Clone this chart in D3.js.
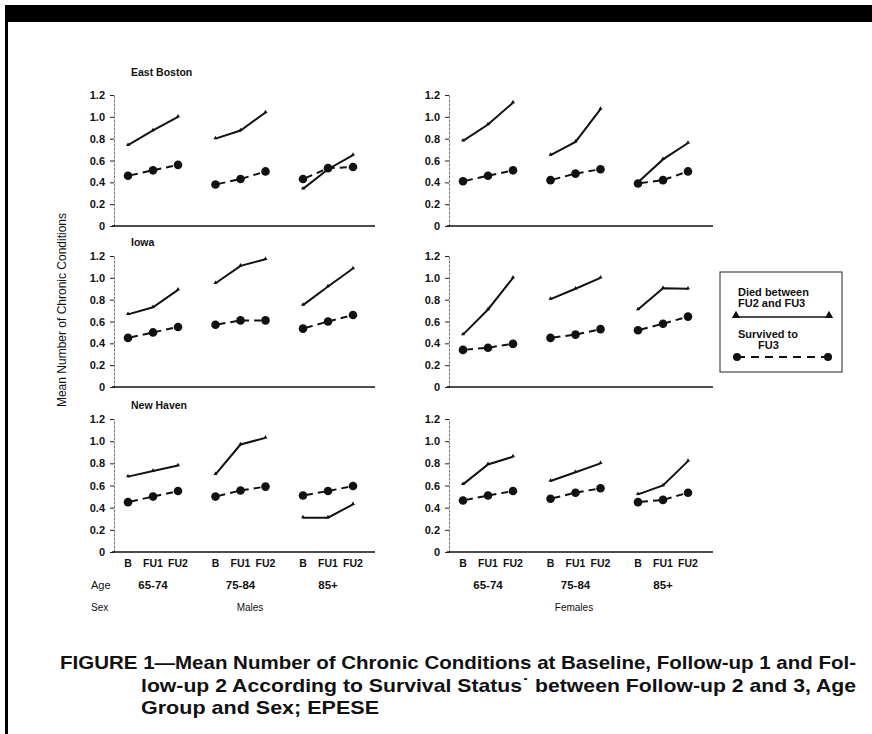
<!DOCTYPE html>
<html>
<head>
<meta charset="utf-8">
<script src="https://cdn.jsdelivr.net/npm/d3@7"></script>
<style>
  body { margin: 0; background: #fff; }
  svg text { font-family: "Liberation Sans", Arial, Helvetica, sans-serif; fill: #111; }
</style>
</head>
<body>
<svg id="fig" width="872" height="734"></svg>
<script>
const sites = ["East Boston", "Iowa", "New Haven"];
const sexes = ["Males", "Females"];
const ageGroups = ["65-74", "75-84", "85+"];
const visits = ["B", "FU1", "FU2"];
const yTicks = [0, 0.2, 0.4, 0.6, 0.8, 1.0, 1.2];

// mean number of chronic conditions, [age group][visit]
const diedEastBostonMales     = [[0.74, 0.875, 1.00], [0.80, 0.875, 1.04], [0.34, 0.52, 0.65]];
const survEastBostonMales     = [[0.46, 0.51, 0.56], [0.38, 0.43, 0.50], [0.43, 0.53, 0.54]];
const diedEastBostonFemales   = [[0.78, 0.93, 1.13], [0.65, 0.77, 1.07], [0.40, 0.61, 0.76]];
const survEastBostonFemales   = [[0.41, 0.46, 0.51], [0.42, 0.48, 0.52], [0.39, 0.42, 0.50]];
const diedIowaMales           = [[0.665, 0.73, 0.89], [0.95, 1.11, 1.17], [0.75, 0.92, 1.085]];
const survIowaMales           = [[0.45, 0.50, 0.55], [0.57, 0.61, 0.61], [0.535, 0.60, 0.66]];
const diedIowaFemales         = [[0.48, 0.71, 1.00], [0.805, 0.90, 1.00], [0.71, 0.905, 0.90]];
const survIowaFemales         = [[0.34, 0.36, 0.395], [0.45, 0.48, 0.53], [0.52, 0.58, 0.645]];
const diedNewHavenMales       = [[0.68, 0.73, 0.78], [0.70, 0.97, 1.03], [0.31, 0.31, 0.43]];
const survNewHavenMales       = [[0.45, 0.50, 0.55], [0.50, 0.555, 0.59], [0.51, 0.55, 0.595]];
const diedNewHavenFemales     = [[0.61, 0.79, 0.86], [0.64, 0.72, 0.80], [0.52, 0.60, 0.82]];
const survNewHavenFemales     = [[0.465, 0.51, 0.55], [0.48, 0.535, 0.575], [0.45, 0.47, 0.535]];

const panels = [
  [diedEastBostonMales, survEastBostonMales, diedEastBostonFemales, survEastBostonFemales],
  [diedIowaMales, survIowaMales, diedIowaFemales, survIowaFemales],
  [diedNewHavenMales, survNewHavenMales, diedNewHavenFemales, survNewHavenFemales]
];

const svg = d3.select("svg#fig");

// frame
svg.append("rect").attr("x", 5).attr("y", 5).attr("width", 867).attr("height", 17).attr("fill", "#000");
svg.append("rect").attr("x", 5).attr("y", 20).attr("width", 3).attr("height", 714).attr("fill", "#000");

const cols = [{x: 114, w: 261}, {x: 449, w: 264}];
const rows = [{top: 95, bottom: 226, title: 72}, {top: 256, bottom: 387, title: 242}, {top: 419, bottom: 552, title: 405}];
const step = 25;   // px between visits
const pad = 14;    // first point offset from y axis

rows.forEach(function(r, ri) {
  svg.append("text")
    .attr("x", 131).attr("y", r.title + 4)
    .style("font-size", "10.5px").style("font-weight", "bold")
    .text(sites[ri]);

  cols.forEach(function(c, ci) {
    const g = svg.append("g").attr("class", "panel");
    const x = d3.scaleLinear()
      .domain([-pad / step, (c.w - pad) / step])
      .range([c.x, c.x + c.w]);
    const y = d3.scaleLinear().domain([0, 1.2]).range([r.bottom, r.top]);
    const pos = (a, t) => x(a * 3.5 + t);

    const yAxis = g.append("g")
      .attr("transform", "translate(" + c.x + ",0)")
      .call(d3.axisLeft(y).tickValues(yTicks).tickSize(4).tickSizeOuter(0).tickPadding(5)
        .tickFormat(d => d === 0 ? "0" : d.toFixed(1)));
    yAxis.select(".domain").attr("stroke", "#777").attr("stroke-width", 1).attr("stroke-dasharray", "3,1");
    yAxis.selectAll(".tick line").attr("stroke", "#222");
    yAxis.selectAll(".tick text").style("font-size", "11px").style("font-weight", "bold").attr("fill", "#111");

    g.append("line")
      .attr("x1", c.x - 2).attr("x2", c.x + c.w)
      .attr("y1", r.bottom).attr("y2", r.bottom)
      .attr("stroke", "#111").attr("stroke-width", 1.5);

    const died = panels[ri][ci * 2];
    const surv = panels[ri][ci * 2 + 1];
    const line = d3.line();

    ageGroups.forEach(function(ag, ai) {
      const dPts = died[ai].map((v, t) => [pos(ai, t), y(v)]);
      const sPts = surv[ai].map((v, t) => [pos(ai, t), y(v)]);

      g.append("path").attr("d", line(dPts))
        .attr("fill", "none").attr("stroke", "#111").attr("stroke-width", 2);
      g.selectAll(null).data(dPts).enter().append("path")
        .attr("d", d3.symbol(d3.symbolTriangle).size(7))
        .attr("transform", d => "translate(" + d[0] + "," + (d[1] - 0.5) + ")")
        .attr("fill", "#111");

      g.append("path").attr("d", line(sPts))
        .attr("fill", "none").attr("stroke", "#111").attr("stroke-width", 2)
        .attr("stroke-dasharray", "7,5").attr("stroke-dashoffset", -3);
      g.selectAll(null).data(sPts).enter().append("circle")
        .attr("cx", d => d[0]).attr("cy", d => d[1]).attr("r", 4.3)
        .attr("fill", "#111");

      if (ri === 2) {
        visits.forEach(function(v, t) {
          g.append("text")
            .attr("x", pos(ai, t)).attr("y", r.bottom + 15)
            .attr("text-anchor", "middle")
            .style("font-size", "10.5px").style("font-weight", "bold")
            .text(v);
        });
        g.append("text")
          .attr("x", pos(ai, 1)).attr("y", r.bottom + 37)
          .attr("text-anchor", "middle")
          .style("font-size", "11.5px").style("font-weight", "bold")
          .text(ag);
      }
    });

    if (ri === 2) {
      g.append("text")
        .attr("x", ci === 0 ? 250 : 574).attr("y", r.bottom + 59)
        .attr("text-anchor", "middle")
        .style("font-size", "10px")
        .text(sexes[ci]);
    }
  });
});

svg.append("text").attr("x", 91).attr("y", 589).style("font-size", "11px").text("Age");
svg.append("text").attr("x", 91).attr("y", 611).style("font-size", "10px").text("Sex");

svg.append("text")
  .attr("transform", "translate(66,310) rotate(-90)")
  .attr("text-anchor", "middle")
  .style("font-size", "12px")
  .text("Mean Number of Chronic Conditions");

// legend
const lg = svg.append("g").attr("class", "legend");
lg.append("rect").attr("x", 720).attr("y", 272).attr("width", 122).attr("height", 100)
  .attr("fill", "none").attr("stroke", "#222").attr("stroke-width", 1);
lg.append("text").attr("x", 738).attr("y", 296).style("font-size", "11px").style("font-weight", "bold").text("Died between");
lg.append("text").attr("x", 738).attr("y", 307).style("font-size", "11px").style("font-weight", "bold").text("FU2 and FU3");
lg.append("line").attr("x1", 736).attr("x2", 829).attr("y1", 317).attr("y2", 317)
  .attr("stroke", "#111").attr("stroke-width", 1.5);
[736, 829].forEach(function(px) {
  lg.append("path").attr("d", d3.symbol(d3.symbolTriangle).size(30))
    .attr("transform", "translate(" + px + ",315.5)").attr("fill", "#111");
});
lg.append("text").attr("x", 738).attr("y", 338).style("font-size", "11px").style("font-weight", "bold").text("Survived to");
lg.append("text").attr("x", 758).attr("y", 349).style("font-size", "11px").style("font-weight", "bold").text("FU3");
lg.append("line").attr("x1", 737).attr("x2", 828).attr("y1", 357).attr("y2", 357)
  .attr("stroke", "#111").attr("stroke-width", 2).attr("stroke-dasharray", "8,6");
[737, 828].forEach(function(px) {
  lg.append("circle").attr("cx", px).attr("cy", 357).attr("r", 4).attr("fill", "#111");
});

// caption
const capLines = [
  {x: 60, y: 669, w: 796, t: "FIGURE 1\u2014Mean Number of Chronic Conditions at Baseline, Follow-up 1 and Fol-"},
  {x: 141, y: 692, w: 715, t: "low-up 2 According to Survival Status\u02d9 between Follow-up 2 and 3, Age"},
  {x: 141, y: 714, w: 238, t: "Group and Sex; EPESE"}
];
capLines.forEach(function(l) {
  svg.append("text")
    .attr("x", l.x).attr("y", l.y)
    .attr("textLength", l.w).attr("lengthAdjust", "spacingAndGlyphs")
    .style("font-size", "19px").style("font-weight", "bold")
    .text(l.t);
});
</script>
</body>
</html>
